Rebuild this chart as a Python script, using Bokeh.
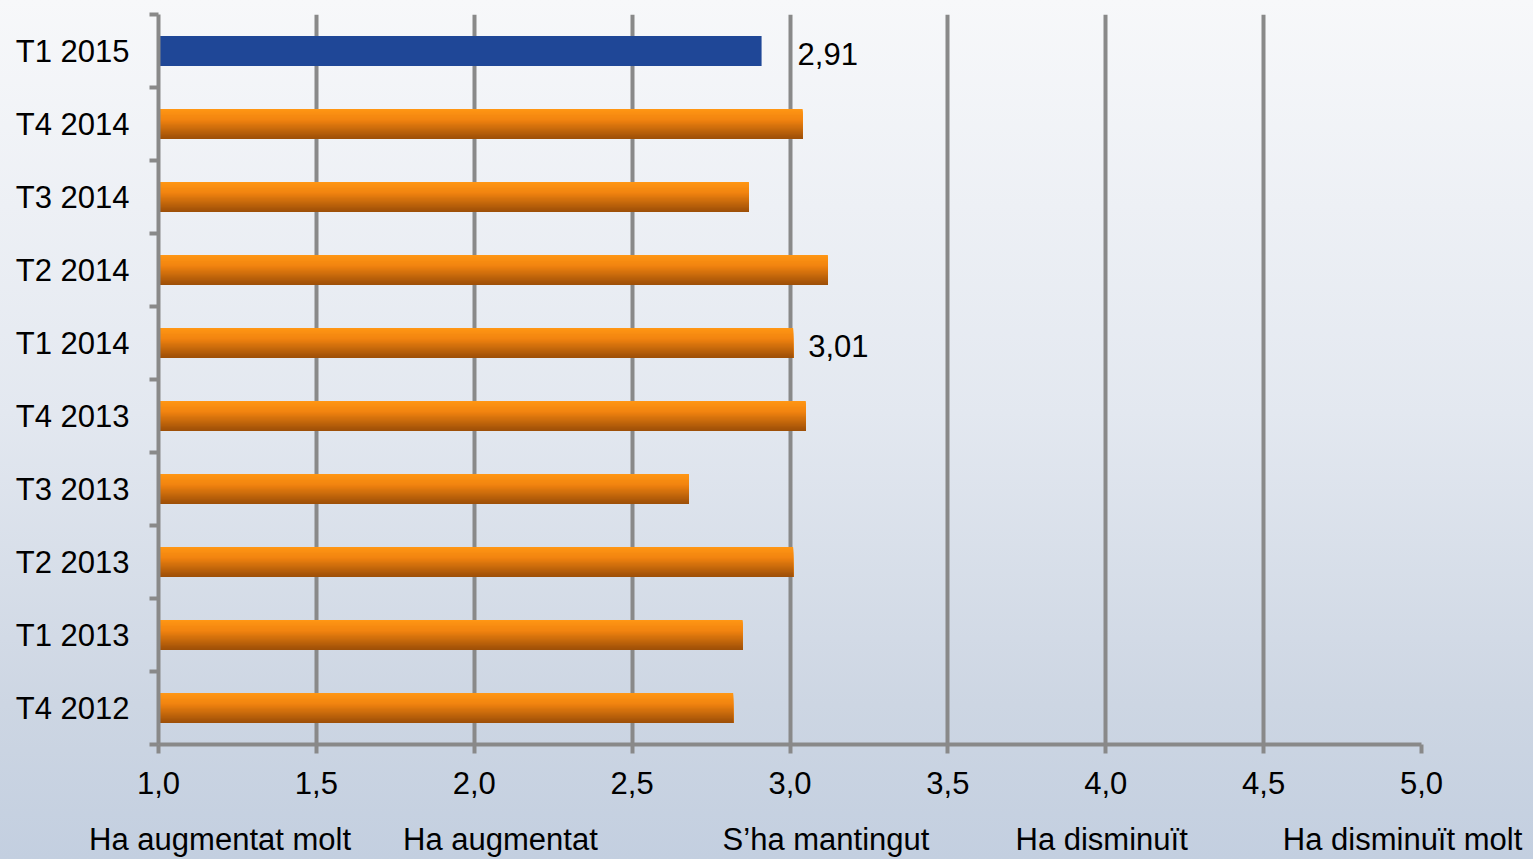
import numpy as np
from bokeh.plotting import figure
from bokeh.models import (FixedTicker, Range1d, InlineStyleSheet, GlobalInlineStyleSheet,
                          ColumnDataSource, LinearAxis)
from bokeh.embed import file_html
from bokeh.resources import INLINE
from bokeh.core.properties import value

# ---- data ----
categories = ["T4 2012", "T1 2013", "T2 2013", "T3 2013", "T4 2013",
              "T1 2014", "T2 2014", "T3 2014", "T4 2014", "T1 2015"]
values = [2.82, 2.85, 3.01, 2.68, 3.05, 3.01, 3.12, 2.87, 3.04, 2.91]
highlight = "T1 2015"
x_ticks = [1.0, 1.5, 2.0, 2.5, 3.0, 3.5, 4.0, 4.5, 5.0]
x_tick_labels = ["1,0", "1,5", "2,0", "2,5", "3,0", "3,5", "4,0", "4,5", "5,0"]
scale_labels = ["Ha augmentat molt", "Ha augmentat", "S\u2019ha mantingut",
                "Ha disminuït", "Ha disminuït molt"]
scale_positions = [1.195, 2.083, 3.114, 3.987, 4.94]
label_categories = ["T1 2015", "T1 2014"]
label_texts = ["2,91", "3,01"]
label_offsets = [36, 15]

FONT = "Liberation Sans"
FS = "31px"
GREY = "#898989"
W, H = 1533, 859

page_css = GlobalInlineStyleSheet(css="""
html { background: linear-gradient(to bottom, #f7f8fa 0%, #e3e8f0 48%, #cdd6e3 82%, #c3cfe0 100%) fixed; min-height: 100%; }
body { margin: 0; background: transparent; overflow: hidden; }
""")
host_css = InlineStyleSheet(css=":host { background: transparent; }")

p = figure(width=W, height=H, output_backend="svg", toolbar_location=None,
           x_range=Range1d(1, 5), y_range=Range1d(-0.5, len(categories) - 0.5),
           min_border_left=158, min_border_right=112, min_border_top=14, min_border_bottom=115,
           stylesheets=[page_css, host_css])
p.border_fill_alpha = 0
p.background_fill_alpha = 0
p.outline_line_color = None

idx = list(range(len(categories)))
bar_h = 0.41
base = 1.0

# orange gradient bars: nested rectangles anchored at the bar bottom
n = 24
stops_t = [0.0, 0.35, 1.0]
stops_c = np.array([[255, 150, 20], [242, 132, 16], [158, 80, 8]])
orange_idx = [i for i, c in enumerate(categories) if c != highlight]
for k in range(n):
    t = k / (n - 1)
    col = [int(np.interp(t, stops_t, stops_c[:, j])) for j in range(3)]
    hk = bar_h * (1 - k / n)
    ys = [i - bar_h / 2 + hk / 2 for i in orange_idx]
    p.hbar(y=ys, left=base, right=[values[i] for i in orange_idx],
           height=hk, fill_color="#%02x%02x%02x" % tuple(col), line_color=None)

hi = [i for i, c in enumerate(categories) if c == highlight]
p.hbar(y=hi, left=base, right=[values[i] for i in hi], height=bar_h,
       fill_color="#1f4797", line_color=None)

# data labels
lab_y = [categories.index(c) for c in label_categories]
lab_x = [values[i] for i in lab_y]
src = ColumnDataSource(dict(x=lab_x, y=lab_y, t=label_texts, xo=label_offsets))
p.text(x="x", y="y", text="t", x_offset="xo", y_offset=3, source=src,
       text_font=value(FONT), text_font_size=FS, text_color="#000000",
       text_baseline="middle", text_align="left")

# grid
p.ygrid.visible = False
p.xgrid.ticker = FixedTicker(ticks=x_ticks)
p.xgrid.grid_line_color = GREY
p.xgrid.grid_line_width = 4

# x axis
xa = p.xaxis[0]
xa.ticker = FixedTicker(ticks=x_ticks)
xa.major_label_overrides = {t: l for t, l in zip(x_ticks, x_tick_labels)}
xa.axis_line_color = GREY
xa.axis_line_width = 4
xa.major_tick_line_color = GREY
xa.major_tick_line_width = 4
xa.major_tick_out = 9
xa.major_tick_in = 0
xa.minor_tick_line_color = None
xa.major_label_text_font = FONT
xa.major_label_text_font_size = FS
xa.major_label_text_color = "#000000"
xa.major_label_standoff = 18

# scale labels axis
sa = LinearAxis(ticker=FixedTicker(ticks=scale_positions),
                major_label_overrides={t: l for t, l in zip(scale_positions, scale_labels)})
sa.axis_line_color = None
sa.major_tick_line_color = None
sa.minor_tick_line_color = None
sa.major_tick_out = 0
sa.major_tick_in = 0
sa.major_label_text_font = FONT
sa.major_label_text_font_size = FS
sa.major_label_text_color = "#000000"
sa.major_label_standoff = 25
p.add_layout(sa, "below")

# y axis
ya = p.yaxis[0]
bounds = [i - 0.5 for i in range(len(categories) + 1)]
ya.ticker = FixedTicker(ticks=idx, minor_ticks=bounds)
ya.major_label_overrides = {i: c for i, c in enumerate(categories)}
ya.axis_line_color = GREY
ya.axis_line_width = 4
ya.major_tick_line_color = None
ya.major_tick_out = 0
ya.major_tick_in = 0
ya.minor_tick_line_color = GREY
ya.minor_tick_line_width = 4
ya.minor_tick_out = 9
ya.minor_tick_in = 0
ya.major_label_text_font = FONT
ya.major_label_text_font_size = FS
ya.major_label_text_color = "#000000"
ya.major_label_standoff = 20

open("out.html", "w").write(file_html(p, INLINE))
